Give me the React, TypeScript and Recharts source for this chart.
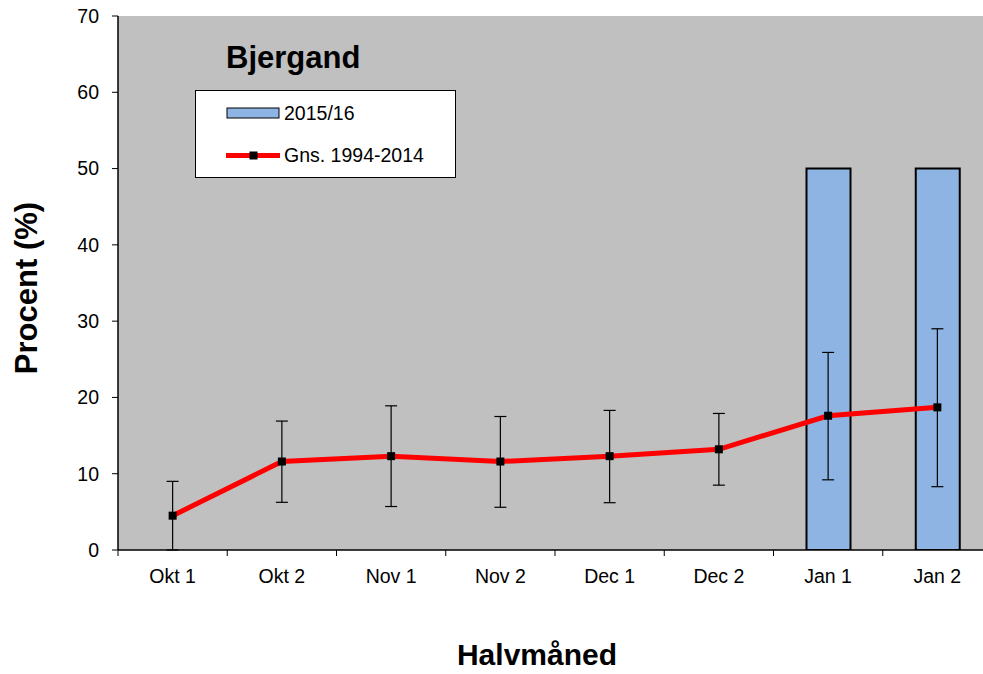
import React from 'react';
import { ComposedChart, Bar, Line, XAxis, YAxis, CartesianGrid, ErrorBar } from 'recharts';

const categories = ['Okt 1', 'Okt 2', 'Nov 1', 'Nov 2', 'Dec 1', 'Dec 2', 'Jan 1', 'Jan 2'];
const season2015 = [null, null, null, null, null, null, 50, 50];
const average = [4.5, 11.6, 12.3, 11.6, 12.3, 13.2, 17.6, 18.7];
const errLow = [0, 6.25, 5.7, 5.6, 6.2, 8.5, 9.2, 8.3];
const errHigh = [9.0, 16.9, 18.9, 17.5, 18.3, 17.9, 25.9, 29.0];
const yTicks = [0, 10, 20, 30, 40, 50, 60, 70];

const seriesBarName = '2015/16';
const seriesLineName = 'Gns. 1994-2014';
const titleText = 'Bjergand';
const yLabel = 'Procent (%)';
const xLabel = 'Halvmåned';

const W = 1000;
const H = 674;
const LEFT = 118;
const RIGHT_M = 8;
const TOP = 16;
const X_AXIS_H = 124;
const BAND = (W - LEFT - RIGHT_M) / categories.length;
const FONT = "Arial, 'Liberation Sans', sans-serif";
const BAR_FILL = '#8EB4E3';
const BG = '#C0C0C0';

const data = categories.map((c, i) => ({
  name: c,
  season: season2015[i],
  avg: average[i],
  err: [average[i] - errLow[i], errHigh[i] - average[i]],
}));

const XTick = (props: any) => {
  const { x, y, payload } = props;
  const half = BAND / 2;
  return (
    <g>
      <line x1={x - half} x2={x - half} y1={y} y2={y + 6} stroke="#000" strokeWidth={1} />
      <text x={x} y={y + 33} textAnchor="middle" fontSize={19.5} fontFamily={FONT} fill="#000">
        {payload.value}
      </text>
    </g>
  );
};

const SquareDot = (props: any) => {
  const { cx, cy, index } = props;
  if (cx == null || cy == null) return <g key={index} />;
  return <rect key={index} x={cx - 4} y={cy - 4} width={8} height={8} fill="#000" />;
};

export default function App() {
  return (
    <div style={{ position: 'absolute', left: 0, top: 0, width: 983, height: 674, overflow: 'hidden', background: '#fff' }}>
      <ComposedChart
        width={W}
        height={H}
        data={data}
        margin={{ top: TOP, right: RIGHT_M, bottom: 0, left: 0 }}
      >
        <CartesianGrid fill={BG} stroke="none" horizontal={false} vertical={false} />
        <XAxis
          dataKey="name"
          height={X_AXIS_H}
          tickLine={false}
          tickSize={0}
          tickMargin={0}
          axisLine={{ stroke: '#000', strokeWidth: 1.5 }}
          tick={<XTick />}
          interval={0}
        />
        <YAxis
          width={LEFT}
          domain={[0, 70]}
          ticks={yTicks}
          tickSize={6}
          tickMargin={13}
          axisLine={{ stroke: '#000', strokeWidth: 1.5 }}
          tickLine={{ stroke: '#000' }}
          tick={{ fontSize: 19.5, fontFamily: FONT, fill: '#000' }}
          allowDataOverflow
        />
        <Bar
          dataKey="season"
          name={seriesBarName}
          fill={BAR_FILL}
          stroke="#000"
          strokeWidth={2}
          barSize={44}
          isAnimationActive={false}
        />
        <Line
          dataKey="avg"
          stroke="none"
          dot={false}
          activeDot={false}
          legendType="none"
          isAnimationActive={false}
        >
          <ErrorBar dataKey="err" width={6} stroke="#000" strokeWidth={1.2} direction="y" />
        </Line>
        <Line
          dataKey="avg"
          name={seriesLineName}
          type="linear"
          stroke="#FF0000"
          strokeWidth={5}
          dot={<SquareDot />}
          activeDot={false}
          isAnimationActive={false}
        />
      </ComposedChart>
      <svg
        width={983}
        height={674}
        style={{ position: 'absolute', left: 0, top: 0, pointerEvents: 'none' }}
      >
        <text x={226} y={68} fontSize={31} fontWeight="bold" fontFamily={FONT} fill="#000">
          {titleText}
        </text>
        <rect x={195.5} y={90.5} width={260} height={87} fill="#fff" stroke="#000" strokeWidth={1} />
        <rect x={227} y={108} width={52} height={10} fill={BAR_FILL} stroke="#000" strokeWidth={1} />
        <text x={284} y={119.5} fontSize={19.5} fontFamily={FONT} fill="#000">
          {seriesBarName}
        </text>
        <line x1={226} x2={280} y1={155.5} y2={155.5} stroke="#FF0000" strokeWidth={5} />
        <rect x={249.5} y={151.5} width={8} height={8} fill="#000" />
        <text x={284} y={162} fontSize={19.5} fontFamily={FONT} fill="#000">
          {seriesLineName}
        </text>
        <text
          transform="translate(37, 288) rotate(-90)"
          textAnchor="middle"
          fontSize={31}
          fontWeight="bold"
          fontFamily={FONT}
          fill="#000"
        >
          {yLabel}
        </text>
        <text x={537} y={665} textAnchor="middle" fontSize={30} fontWeight="bold" fontFamily={FONT} fill="#000">
          {xLabel}
        </text>
      </svg>
    </div>
  );
}
